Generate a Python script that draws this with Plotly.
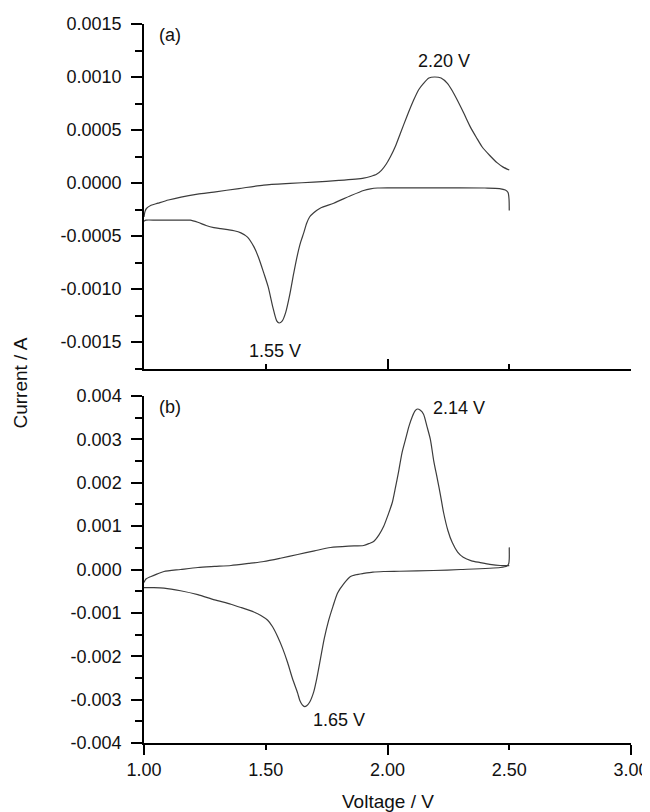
import plotly.graph_objects as go

# ---------------- data ----------------
# Panel (a): forward (anodic) sweep
a_fwd_v = [1.000, 1.004, 1.010, 1.029, 1.057, 1.100, 1.152, 1.220, 1.287, 1.390, 1.492, 1.600,
           1.697, 1.800, 1.902, 1.930, 1.955, 1.975, 1.995, 2.012, 2.033, 2.053, 2.080, 2.107,
           2.128, 2.148, 2.170, 2.193, 2.220, 2.246, 2.266, 2.287, 2.313, 2.340, 2.365, 2.389,
           2.420, 2.451, 2.475, 2.500]
a_fwd_i = [-0.00032, -0.00027, -0.00024, -0.00021, -0.00019, -0.00016, -0.000132, -0.000105,
           -0.000085, -0.000052, -0.000019, -0.000003, 0.000009, 0.000025, 0.000047, 0.000062,
           0.000082, 0.00012, 0.00018, 0.000248, 0.00035, 0.00047, 0.00063, 0.00078, 0.00088,
           0.00094, 0.00099, 0.00100, 0.00099, 0.00094, 0.00087, 0.00078, 0.00066, 0.00053,
           0.00043, 0.00034, 0.00026, 0.00019, 0.00015, 0.000123]
# Panel (a): reverse (cathodic) sweep
a_rev_v = [2.500, 2.499, 2.495, 2.484, 2.460, 2.400, 2.200, 2.000, 1.960, 1.930, 1.902, 1.848,
           1.779, 1.725, 1.697, 1.680, 1.668, 1.656, 1.643, 1.630, 1.615, 1.598, 1.582, 1.568,
           1.555, 1.545, 1.529, 1.510, 1.492, 1.470, 1.451, 1.425, 1.398, 1.370, 1.344, 1.315,
           1.287, 1.255, 1.221, 1.190, 1.152, 1.100, 1.050, 1.008, 1.000]
a_rev_i = [-0.00026, -0.00015, -0.00009, -0.000066, -0.000052, -0.000047, -0.000045, -0.000045,
           -0.000047, -0.000055, -0.00007, -0.00012, -0.00019, -0.000235, -0.00028, -0.00032,
           -0.00038, -0.00047, -0.00056, -0.00068, -0.00085, -0.00106, -0.00122, -0.0013,
           -0.00132, -0.0013, -0.00117, -0.00098, -0.00085, -0.0007, -0.0006, -0.00051,
           -0.00047, -0.00045, -0.00044, -0.00043, -0.00042, -0.0004, -0.00037, -0.00035,
           -0.00035, -0.00035, -0.00035, -0.00035, -0.00036]

# Panel (b): forward (anodic) sweep
b_fwd_v = [1.000, 1.008, 1.029, 1.055, 1.082, 1.150, 1.221, 1.290, 1.357, 1.430, 1.492, 1.560,
           1.631, 1.700, 1.766, 1.840, 1.902, 1.925, 1.943, 1.965, 1.984, 2.003, 2.020, 2.033,
           2.045, 2.060, 2.074, 2.088, 2.102, 2.113, 2.123, 2.135, 2.148, 2.162, 2.176, 2.190,
           2.205, 2.218, 2.230, 2.248, 2.266, 2.288, 2.311, 2.345, 2.381, 2.420, 2.463, 2.500]
b_fwd_i = [-0.0003, -0.00022, -0.00016, -0.0001, -0.000046, 0.0, 0.000046, 0.00007, 0.000092,
           0.00014, 0.000185, 0.00026, 0.000346, 0.00043, 0.000508, 0.00054, 0.000554, 0.0006,
           0.000647, 0.0008, 0.00099, 0.00127, 0.00155, 0.0019, 0.00224, 0.0027, 0.003, 0.0033,
           0.00353, 0.00366, 0.0037, 0.00367, 0.00358, 0.0033, 0.003, 0.0025, 0.00208, 0.0017,
           0.00132, 0.0009, 0.00062, 0.0004, 0.00028, 0.0002, 0.00016, 0.00012, 0.000092, 0.00009]
# Panel (b): reverse (cathodic) sweep
b_rev_v = [2.500, 2.500, 2.498, 2.490, 2.463, 2.300, 2.189, 2.050, 1.984, 1.940, 1.902, 1.870,
           1.848, 1.820, 1.795, 1.776, 1.758, 1.740, 1.725, 1.710, 1.697, 1.680, 1.668, 1.660,
           1.650, 1.640, 1.631, 1.610, 1.590, 1.570, 1.549, 1.528, 1.508, 1.480, 1.451, 1.400,
           1.357, 1.290, 1.221, 1.150, 1.082, 1.040, 1.000]
b_rev_i = [0.00051, 0.00025, 0.00014, 0.00008, 0.000046, 0.0, -0.000023, -0.00004, -0.000046,
           -0.00006, -0.00009, -0.00012, -0.00016, -0.00033, -0.00054, -0.00085, -0.00118,
           -0.0016, -0.00205, -0.0025, -0.00282, -0.00306, -0.00314, -0.00316, -0.00312,
           -0.00302, -0.00285, -0.00252, -0.00215, -0.00183, -0.00155, -0.00132, -0.00117,
           -0.00106, -0.00098, -0.00088, -0.0008, -0.0007, -0.00058, -0.00049, -0.00043,
           -0.00042, -0.00042]

# tick labels
x_major_vals = [1.0, 2.0, 3.0]
x_major_text = ["1.00", "2.00", "3.00"]
x_half_vals = [1.5, 2.5]
x_half_text = ["1.50", "2.50"]
ya_vals = [-0.0015, -0.0010, -0.0005, 0.0, 0.0005, 0.0010, 0.0015]
ya_text = ["-0.0015", "-0.0010", "-0.0005", "0.0000", "0.0005", "0.0010", "0.0015"]
yb_vals = [-0.004, -0.003, -0.002, -0.001, 0.0, 0.001, 0.002, 0.003, 0.004]
yb_text = ["-0.004", "-0.003", "-0.002", "-0.001", "0.000", "0.001", "0.002", "0.003", "0.004"]

# peak labels: (text, V, I)
a_labels = [("(a)", 1.107, 0.00140), ("2.20 V", 2.23, 0.00115), ("1.55 V", 1.537, -0.00158)]
b_labels = [("(b)", 1.107, 0.00374), ("2.14 V", 2.295, 0.00372), ("1.65 V", 1.799, -0.00346)]

# ---------------- figure ----------------
FONT = "Arial, 'Liberation Sans', sans-serif"
FS = 18
LINE = dict(color="#3c3c3c", width=1.2, shape="spline", smoothing=0.7)

fig = go.Figure()
fig.add_trace(go.Scatter(x=a_fwd_v, y=a_fwd_i, mode="lines", line=LINE, xaxis="x", yaxis="y",
                         showlegend=False))
fig.add_trace(go.Scatter(x=a_rev_v, y=a_rev_i, mode="lines", line=LINE, xaxis="x", yaxis="y",
                         showlegend=False))
fig.add_trace(go.Scatter(x=b_fwd_v, y=b_fwd_i, mode="lines", line=LINE, xaxis="x2", yaxis="y2",
                         showlegend=False))
fig.add_trace(go.Scatter(x=b_rev_v, y=b_rev_i, mode="lines", line=LINE, xaxis="x3", yaxis="y2",
                         showlegend=False))

axis_common = dict(showgrid=False, zeroline=False, showline=True, linecolor="black",
                   linewidth=1.5, tickcolor="black", tickwidth=1.5, automargin=False,
                   tickfont=dict(family=FONT, size=FS, color="#111"))

# page body has an 8px margin, so the figure is 8px smaller and offset
fig.update_layout(
    template="none",
    width=642, height=804,
    margin=dict(l=136, r=19, t=16, b=69, autoexpand=False),
    paper_bgcolor="white", plot_bgcolor="white",
    xaxis=dict(**axis_common, domain=[0, 1], range=[1, 3], anchor="y",
               tickmode="array", tickvals=x_major_vals, ticks="inside", ticklen=10,
               showticklabels=False,
               minor=dict(tickmode="array", tickvals=x_half_vals, ticks="inside", ticklen=5,
                          tickcolor="black", tickwidth=1.5)),
    yaxis=dict(**axis_common, domain=[0.520, 1], range=[-0.001755, 0.0015], anchor="x",
               tickmode="array", tickvals=ya_vals, ticktext=ya_text, ticks="outside", ticklen=11,
               ticklabelstandoff=6,
               minor=dict(dtick=0.00025, tick0=0, ticks="outside", ticklen=7,
                          tickcolor="black", tickwidth=1.5)),
    xaxis2=dict(**axis_common, domain=[0, 1], range=[1, 3], anchor="y2",
                tickmode="array", tickvals=x_major_vals, ticktext=x_major_text,
                ticks="outside", ticklen=10,
                minor=dict(tickmode="array", tickvals=x_half_vals, ticks="outside", ticklen=5,
                           tickcolor="black", tickwidth=1.5)),
    xaxis3=dict(showgrid=False, zeroline=False, showline=False, range=[1, 3], automargin=False,
                overlaying="x2", anchor="y2", side="bottom",
                tickmode="array", tickvals=x_half_vals, ticktext=x_half_text,
                ticks="outside", ticklen=10, tickcolor="rgba(0,0,0,0)",
                tickfont=dict(family=FONT, size=FS, color="#111")),
    yaxis2=dict(**axis_common, domain=[0, 0.4826], range=[-0.004, 0.004], anchor="x2",
                tickmode="array", tickvals=yb_vals, ticktext=yb_text, ticks="outside", ticklen=11,
                ticklabelstandoff=6,
                minor=dict(dtick=0.0005, tick0=0, ticks="outside", ticklen=7,
                           tickcolor="black", tickwidth=1.5)),
)

for txt, xv, yv in a_labels:
    fig.add_annotation(x=xv, y=yv, xref="x", yref="y", text=txt, showarrow=False,
                       font=dict(family=FONT, size=FS, color="#111"))
for txt, xv, yv in b_labels:
    fig.add_annotation(x=xv, y=yv, xref="x2", yref="y2", text=txt, showarrow=False,
                       font=dict(family=FONT, size=FS, color="#111"))

fig.add_annotation(x=-0.2546, y=0.5, xref="paper", yref="paper", text="Current / A",
                   textangle=-90, showarrow=False, xanchor="center", yanchor="middle",
                   font=dict(family=FONT, size=19, color="#111"))
fig.add_annotation(x=0.5, y=-0.0807, xref="paper", yref="paper", text="Voltage / V",
                   showarrow=False, xanchor="center", yanchor="middle",
                   font=dict(family=FONT, size=19, color="#111"))

fig.write_html("out.html")
